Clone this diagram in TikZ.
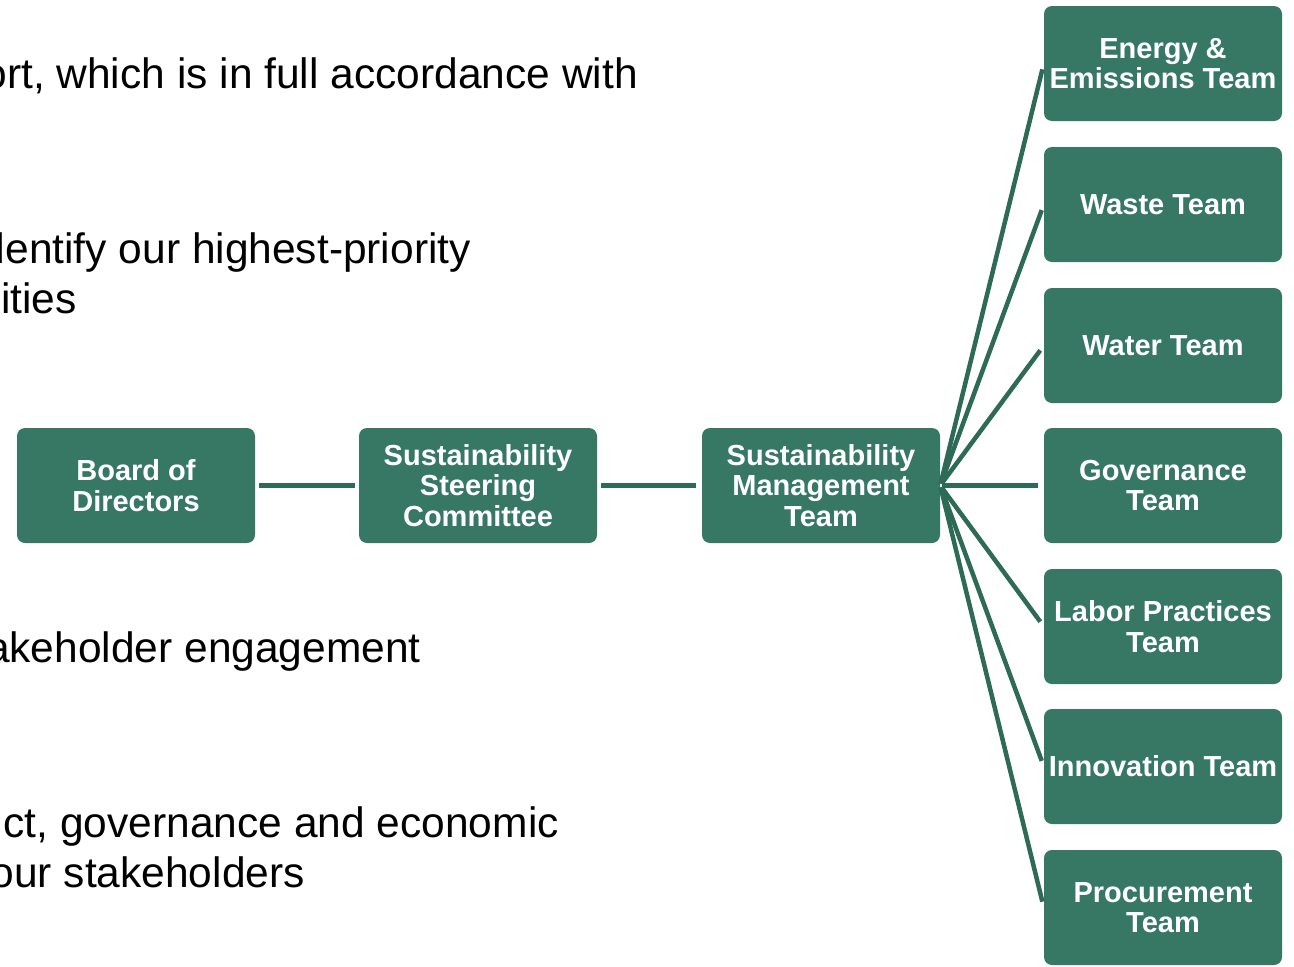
\documentclass[tikz,border=0pt]{standalone}
\usepackage{fontspec}
\setmainfont{Liberation Sans}
\definecolor{boxgreen}{HTML}{367863}
\definecolor{linkgreen}{HTML}{2E6B56}
\begin{document}
\begin{tikzpicture}[x=1pt,y=-1pt,
  team/.style={fill=boxgreen, draw=none, rounded corners=8pt,
    minimum width=238pt, minimum height=115pt, inner sep=0pt,
    text=white, align=center,
    font=\fontsize{29}{30.5}\selectfont\bfseries},
  link/.style={draw=linkgreen, line width=4.5pt},
  body/.style={anchor=base east, inner sep=0pt,
    font=\fontsize{42.5}{50}\selectfont}]
\clip (0,0) rectangle (1294,967);
\fill[white] (0,0) rectangle (1294,967);

% running text on the left, cut by the page edge
\node[body] (t1) at (638,88)  {ort, which is in full accordance with};
\node[body] (t2) at (471,263) {identify our highest-priority};
\node[body] (t3) at (77,313)  {ities};
\node[body] (t4) at (421,662) {stakeholder engagement};
\node[body] (t5) at (559,837) {ct, governance and economic};
\node[body] (t6) at (305,887) {our stakeholders};

% reporting chain
\node[team] (board) at (136,485.5) {Board of\\Directors};
\node[team] (steer) at (478,485.5) {Sustainability\\Steering\\Committee};
\node[team] (mgmt)  at (821,485.5) {Sustainability\\Management\\Team};

% working teams
\node[team] (energy) at (1163,63.5)  {Energy \&\\Emissions Team};
\node[team] (waste)  at (1163,204.5) {Waste Team};
\node[team] (water)  at (1163,345.5) {Water Team};
\node[team] (gov)    at (1163,485.5) {Governance\\Team};
\node[team] (labor)  at (1163,626.5) {Labor Practices\\Team};
\node[team] (innov)  at (1163,766.5) {Innovation Team};
\node[team] (proc)   at (1163,907.5) {Procurement\\Team};

\draw[link, shorten <=4pt, shorten >=4pt] (board.east) -- (steer.west);
\draw[link, shorten <=4pt, shorten >=6pt] (steer.east) -- (mgmt.west);
\foreach \t in {energy,waste,water,gov,labor,innov,proc}
  \draw[link, shorten <=2pt, shorten >=6pt] (mgmt.east) -- (\t.west);
\end{tikzpicture}
\end{document}
